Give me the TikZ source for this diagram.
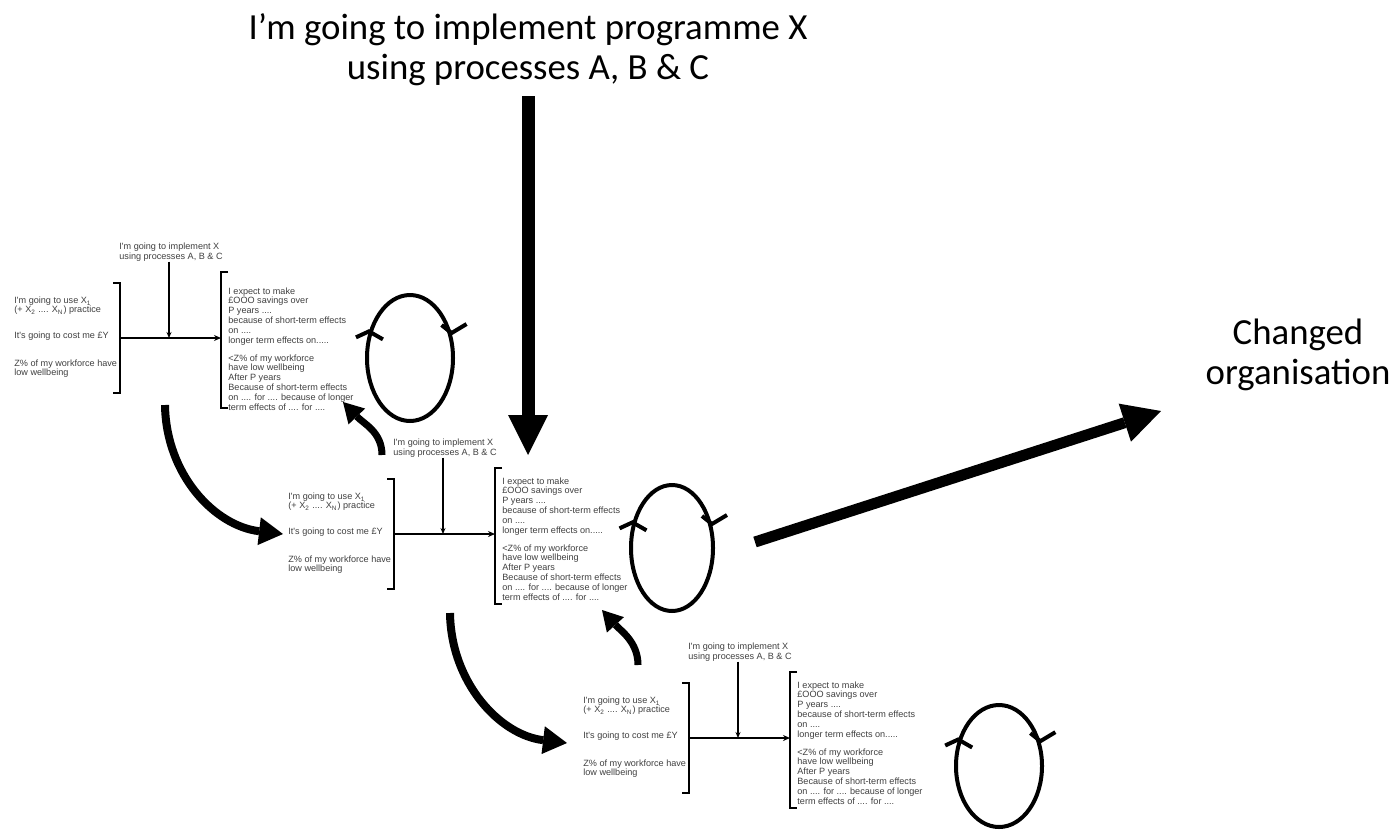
\documentclass[tikz,border=0pt]{standalone}
\usepackage{fontspec}
\setmainfont{Carlito}
\newfontfamily\arialf{Liberation Sans}
\usetikzlibrary{arrows.meta,shapes.geometric,calc}

\newcommand{\drawblock}[4]{%
\begin{scope}[shift={(#2,#3)}, name prefix=#1-]
  \node[small] (lab) at (2,-86) {I'm going to implement X\\using processes A, B \& C};
  \node[small, anchor=north west] (use) at (-155,-42) {I'm going to use X\textsubscript{1}\\(+ X\textsubscript{2} .... X\textsubscript{N}) practice};
  \node[small, anchor=west] (cost) at (-155,-2) {It's going to cost me £Y};
  \node[small, anchor=north west] (wf) at (-155,21) {Z\% of my workforce have\\low wellbeing};
  \node[small, anchor=north west] (r1) at (59,-57+#4) {I expect to make\\£OOO savings over\\P years ....\\because of short-term effects\\on ....\\longer term effects on.....};
  \node[small, anchor=north west] (r2) at (59,10+#4) {<Z\% of my workforce\\have low wellbeing\\After P years\\Because of short-term effects\\on .... for .... because of longer\\term effects of .... for ....};
  \coordinate (rb) at (-49,0);
  \coordinate (lb) at (52,0);
  \coordinate (jn) at (0,0);
  \draw[brk] (-56,-55) -- (-49,-55) -- (-49,55) -- (-56,55);
  \draw[brk] (59,-66) -- (52,-66) -- (52,70) -- (59,70);
  \draw[thinl,-{Stealth[length=3.5pt,width=3pt]}] (rb) -- (lb);
  \draw[thinl,-{Stealth[length=3pt,width=2.5pt]}] (lab.south -| jn) -- (jn);
\end{scope}}

\newcommand{\chevrons}[1]{%
  \draw[tick] ($(#1.147)+(-13,6)$) -- (#1.147) -- ($(#1.147)+(14,8)$);
  \draw[tick] ($(#1.31)+(-10,-8)$) -- (#1.31) -- ($(#1.31)+(15,-9)$);}

\begin{document}
\begin{tikzpicture}[x=0.5pt,y=-0.5pt,
  small/.style={font=\arialf\fontsize{4.55}{4.9}\selectfont, text=black!75, inner sep=0, align=left},
  big/.style={font=\fontsize{18.4}{20}\selectfont, align=center, inner sep=0},
  thinl/.style={line width=0.9pt},
  brk/.style={line width=1.1pt},
  loopell/.style={draw, ellipse, line width=2pt, inner sep=0},
  tick/.style={line width=2pt},
  barrow/.style={line width=4pt, -{Triangle[length=12pt,width=14pt,line width=0pt]}},
  sarrow/.style={line width=3.5pt, -{Triangle[length=10pt,width=11.5pt,line width=0pt]}}
]
\fill[white] (0,0) rectangle (1397,831);
\useasboundingbox (0,0) rectangle (1397,831);

% title and main arrow
\node[big] (title) at (528,50) {I’m going to implement programme X\\using processes A, B \& C};
\coordinate (bigtop) at (528,96);
\coordinate (bigtip) at (528,455);
\draw[line width=6.5pt, -{Triangle[length=20pt,width=20pt,line width=0pt]}] (bigtop) -- (bigtip);

% outcome
\node[big] (chg) at (1298,355) {Changed\\organisation};
\coordinate (ts) at (755,542);
\coordinate (te) at (1161,411);
\draw[line width=5.5pt, -{Triangle[length=19pt,width=20pt,line width=0pt]}] (ts) -- (te);

% blocks
\drawblock{b1}{169}{338}{6}
\drawblock{b2}{443}{534}{0}
\drawblock{b3}{738}{738}{0}

% loops
\node[loopell, minimum width=43pt, minimum height=63pt] (e1) at (410,358) {};
\node[loopell, minimum width=41pt, minimum height=63pt] (e2) at (672,548) {};
\node[loopell, minimum width=43pt, minimum height=61pt] (e3) at (999,766) {};
\chevrons{e1}
\chevrons{e2}
\chevrons{e3}

% curved arrows
\coordinate (b1s) at (165,405);
\coordinate (b1e) at (283,534);
\draw[barrow] (b1s) .. controls (166,475) and (215,526) .. (b1e);
\coordinate (b2s) at (450,613);
\coordinate (b2e) at (567,743);
\draw[barrow] (b2s) .. controls (451,683) and (500,735) .. (b2e);
\coordinate (s1s) at (382,455);
\coordinate (s1e) at (343,402);
\draw[sarrow] (s1s) .. controls (382,432) and (364,424) .. (s1e);
\coordinate (s2s) at (638,665);
\coordinate (s2e) at (602,610);
\draw[sarrow] (s2s) .. controls (638,642) and (621,631) .. (s2e);
\end{tikzpicture}
\end{document}
